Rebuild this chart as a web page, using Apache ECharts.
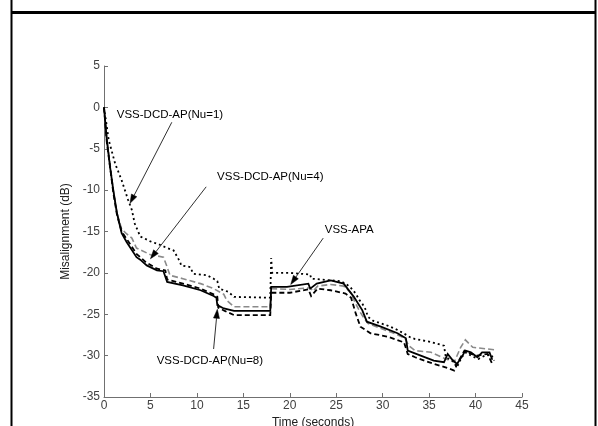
<!DOCTYPE html>
<html>
<head>
<meta charset="utf-8">
<script src="https://cdn.jsdelivr.net/npm/echarts@6/dist/echarts.min.js"></script>
<style>html,body{margin:0;padding:0;background:#fff}#c{width:598px;height:426px}</style>
</head>
<body>
<div id="c"></div>
<script>
// ---- data (time in seconds, misalignment in dB) ----
const xTicks = [0, 5, 10, 15, 20, 25, 30, 35, 40, 45];
const yTicks = [5, 0, -5, -10, -15, -20, -25, -30, -35];

const nu1 = [[0,0],[0.2,-1.5],[0.5,-3.9],[1.2,-6.8],[1.9,-8.8],[2.6,-11.2],[3.0,-12.4],[3.3,-14.0],[3.9,-15.6],[5.0,-16.2],[6.0,-16.6],[6.8,-17.0],[7.5,-17.3],[8.2,-18.7],[8.3,-19.1],[9.3,-19.3],[9.6,-20.1],[11.1,-20.3],[11.8,-20.7],[12.2,-21.0],[12.4,-21.9],[13.4,-22.3],[14.0,-22.9],[17.9,-23.0],[18.0,-22.9],[18.0,-18.2],[18.1,-20.0],[20.0,-20.0],[22.2,-20.2],[22.3,-20.7],[24.4,-20.9],[25.5,-21.0],[26.0,-21.3],[26.5,-21.7],[27.1,-22.5],[27.5,-23.3],[27.8,-23.7],[28.2,-24.5],[28.4,-25.3],[29.0,-25.8],[29.8,-26.1],[30.6,-26.4],[31.6,-26.9],[32.4,-27.4],[33.0,-27.8],[33.5,-28.0],[35.0,-28.3],[36.6,-28.8],[36.8,-30.2],[37.5,-30.6],[38.0,-31.4],[38.5,-30.2],[39.0,-29.6],[39.5,-30.0],[40.3,-30.4],[41.0,-30.0],[41.7,-29.9],[42.0,-30.6]];

const nu4 = [[0,0],[0.3,-3.8],[0.7,-7.3],[1.0,-10.0],[1.4,-12.8],[1.9,-14.7],[2.45,-15.3],[3.0,-15.8],[3.5,-17.0],[5.0,-17.8],[6.4,-18.1],[6.8,-19.3],[7.1,-20.3],[8.5,-20.7],[10.4,-21.3],[11.8,-21.9],[12.9,-22.6],[13.2,-23.3],[14.0,-24.1],[17.9,-24.1],[18.0,-24.0],[18.0,-21.9],[20.0,-22.0],[22.2,-21.8],[22.5,-22.2],[23.0,-21.6],[24.4,-21.4],[25.8,-21.6],[26.5,-22.3],[27.0,-23.5],[27.5,-24.6],[28.0,-25.5],[28.4,-26.1],[29.5,-26.6],[31.0,-27.2],[32.4,-27.9],[32.8,-28.8],[33.5,-29.4],[35.2,-29.6],[36.4,-30.2],[37.7,-30.8],[38.4,-29.0],[38.9,-28.1],[39.7,-29.0],[41.3,-29.2],[42.0,-29.3]];

const apa = [[0,0],[0.3,-3.9],[0.65,-7.2],[1.0,-10.0],[1.4,-12.8],[1.9,-15.2],[2.45,-16.3],[3.5,-18.1],[3.9,-18.4],[4.6,-19.1],[5.7,-19.7],[6.4,-19.8],[6.8,-21.1],[8.5,-21.5],[10.4,-22.1],[11.8,-22.8],[12.1,-23.0],[12.2,-23.9],[12.9,-24.3],[14.0,-24.6],[17.9,-24.6],[18.0,-24.5],[18.0,-21.7],[19.7,-21.7],[22.0,-21.3],[22.2,-21.9],[22.9,-21.3],[24.4,-20.9],[25.8,-21.3],[26.9,-22.9],[27.8,-24.5],[28.3,-25.9],[29.8,-26.5],[31.6,-27.3],[32.5,-27.9],[32.7,-29.4],[34.1,-30.0],[35.5,-30.6],[36.6,-30.8],[36.8,-31.0],[37.0,-29.8],[37.5,-30.5],[38.0,-31.0],[38.6,-30.0],[38.9,-29.4],[39.5,-29.6],[40.2,-30.2],[40.7,-29.6],[41.5,-29.6],[41.8,-30.5]];

const nu8 = [[0,0],[0.3,-4.2],[0.7,-7.6],[1.0,-10.3],[1.4,-13.0],[1.9,-15.0],[2.5,-16.0],[3.5,-17.7],[4.5,-18.7],[5.7,-19.5],[6.6,-19.7],[6.8,-20.8],[8.5,-21.3],[10.4,-21.9],[11.8,-22.6],[12.2,-22.9],[12.3,-24.2],[13.0,-24.6],[14.0,-25.1],[17.9,-25.1],[18.0,-25.0],[18.0,-22.4],[20.0,-22.4],[22.0,-22.0],[22.3,-22.8],[23.0,-21.9],[24.4,-22.1],[26.0,-22.5],[26.6,-23.0],[27.1,-24.9],[27.6,-26.5],[28.7,-27.3],[30.5,-27.7],[32.3,-28.4],[32.7,-29.8],[33.5,-30.2],[35.5,-31.0],[37.0,-31.5],[37.7,-31.8],[38.2,-30.6],[38.8,-29.4],[39.5,-29.8],[40.2,-30.0],[41.3,-29.8],[41.8,-31.0]];

// annotations: label text, label anchor (data), arrow start (data), arrow tip (data)
const annoText = ['VSS-DCD-AP(Nu=1)', 'VSS-DCD-AP(Nu=4)', 'VSS-APA', 'VSS-DCD-AP(Nu=8)'];
const annoLabelAt = [[7.1, -0.9], [17.9, -8.4], [26.4, -14.8], [11.4, -30.6]];
const annoFrom = [[7.3, -1.8], [11.0, -9.6], [23.6, -15.8], [11.8, -29.2]];
const annoTip = [[2.8, -11.6], [5.0, -18.3], [20.1, -21.4], [12.2, -24.4]];

const axisColor = '#707070';
const labelColor = '#404040';
const font = 'Liberation Sans, Arial, sans-serif';

const chart = echarts.init(document.getElementById('c'), null, {renderer: 'canvas'});

function line(name, data, color, type, width) {
  return {
    name: name, type: 'line', data: data, showSymbol: false, symbol: 'none',
    lineStyle: {color: color, type: type, width: width, cap: 'butt', join: 'miter'},
    animation: false, silent: true, z: 3
  };
}

const option = {
  animation: false,
  backgroundColor: '#ffffff',
  grid: {left: 104, right: 76, top: 66, bottom: 29, containLabel: false, outerBoundsMode: 'none'},
  xAxis: {
    type: 'value', min: 0, max: 45, interval: 5,
    name: 'Time (seconds)', nameLocation: 'middle', nameGap: 20,
    nameTextStyle: {color: '#202020', fontFamily: font, fontSize: 12},
    axisLine: {show: true, onZero: false, lineStyle: {color: axisColor, width: 1}},
    axisTick: {show: true, inside: true, length: 4, lineStyle: {color: axisColor}},
    axisLabel: {color: labelColor, fontFamily: font, fontSize: 12, margin: 3,
      formatter: v => xTicks.includes(v) ? String(v) : ''},
    splitLine: {show: false}
  },
  yAxis: {
    type: 'value', min: -35, max: 5, interval: 5,
    name: 'Misalignment (dB)', nameLocation: 'middle', nameGap: 26, nameRotate: 90,
    nameTextStyle: {color: '#202020', fontFamily: font, fontSize: 12},
    axisLine: {show: true, onZero: false, lineStyle: {color: axisColor, width: 1}},
    axisTick: {show: true, inside: true, length: 4, lineStyle: {color: axisColor}},
    axisLabel: {color: labelColor, fontFamily: font, fontSize: 12, margin: 4,
      formatter: v => yTicks.includes(v) ? String(v) : ''},
    splitLine: {show: false}
  },
  series: [
    line('VSS-DCD-AP(Nu=4)', nu4, '#8a8a8a', [6, 3], 1.6),
    line('VSS-DCD-AP(Nu=8)', nu8, '#000000', [5, 3], 1.8),
    line('VSS-APA', apa, '#000000', 'solid', 1.8),
    line('VSS-DCD-AP(Nu=1)', nu1, '#000000', [2, 3], 1.8)
  ]
};
chart.setOption(option);

function drawOverlay() {
  const g = [];
  // figure frame
  g.push({type: 'line', shape: {x1: 11.5, y1: 0, x2: 11.5, y2: 426}, style: {stroke: '#000', lineWidth: 2}, z: 10});
  g.push({type: 'line', shape: {x1: 595.5, y1: 0, x2: 595.5, y2: 426}, style: {stroke: '#000', lineWidth: 2}, z: 10});
  g.push({type: 'line', shape: {x1: 11, y1: 12.5, x2: 596, y2: 12.5}, style: {stroke: '#000', lineWidth: 3}, z: 10});
  for (let i = 0; i < annoText.length; i++) {
    const p = chart.convertToPixel({gridIndex: 0}, annoLabelAt[i]);
    const a = chart.convertToPixel({gridIndex: 0}, annoFrom[i]);
    const b = chart.convertToPixel({gridIndex: 0}, annoTip[i]);
    g.push({type: 'text', x: p[0], y: p[1], z: 12,
      style: {text: annoText[i], fill: '#000', font: '11.5px ' + font, align: 'center', verticalAlign: 'middle'}});
    const dx = b[0] - a[0], dy = b[1] - a[1];
    const len = Math.sqrt(dx * dx + dy * dy);
    const ux = dx / len, uy = dy / len;
    const hl = 9, hw = 3;
    const bx = b[0] - ux * hl, by = b[1] - uy * hl;
    g.push({type: 'line', shape: {x1: a[0], y1: a[1], x2: bx, y2: by}, style: {stroke: '#303030', lineWidth: 1}, z: 12});
    g.push({type: 'polygon', z: 12,
      shape: {points: [[b[0], b[1]], [bx - uy * hw, by + ux * hw], [bx + uy * hw, by - ux * hw]]},
      style: {fill: '#000', stroke: '#000', lineWidth: 0.5}});
  }
  chart.setOption({graphic: {elements: g}});
}
drawOverlay();
</script>
</body>
</html>
